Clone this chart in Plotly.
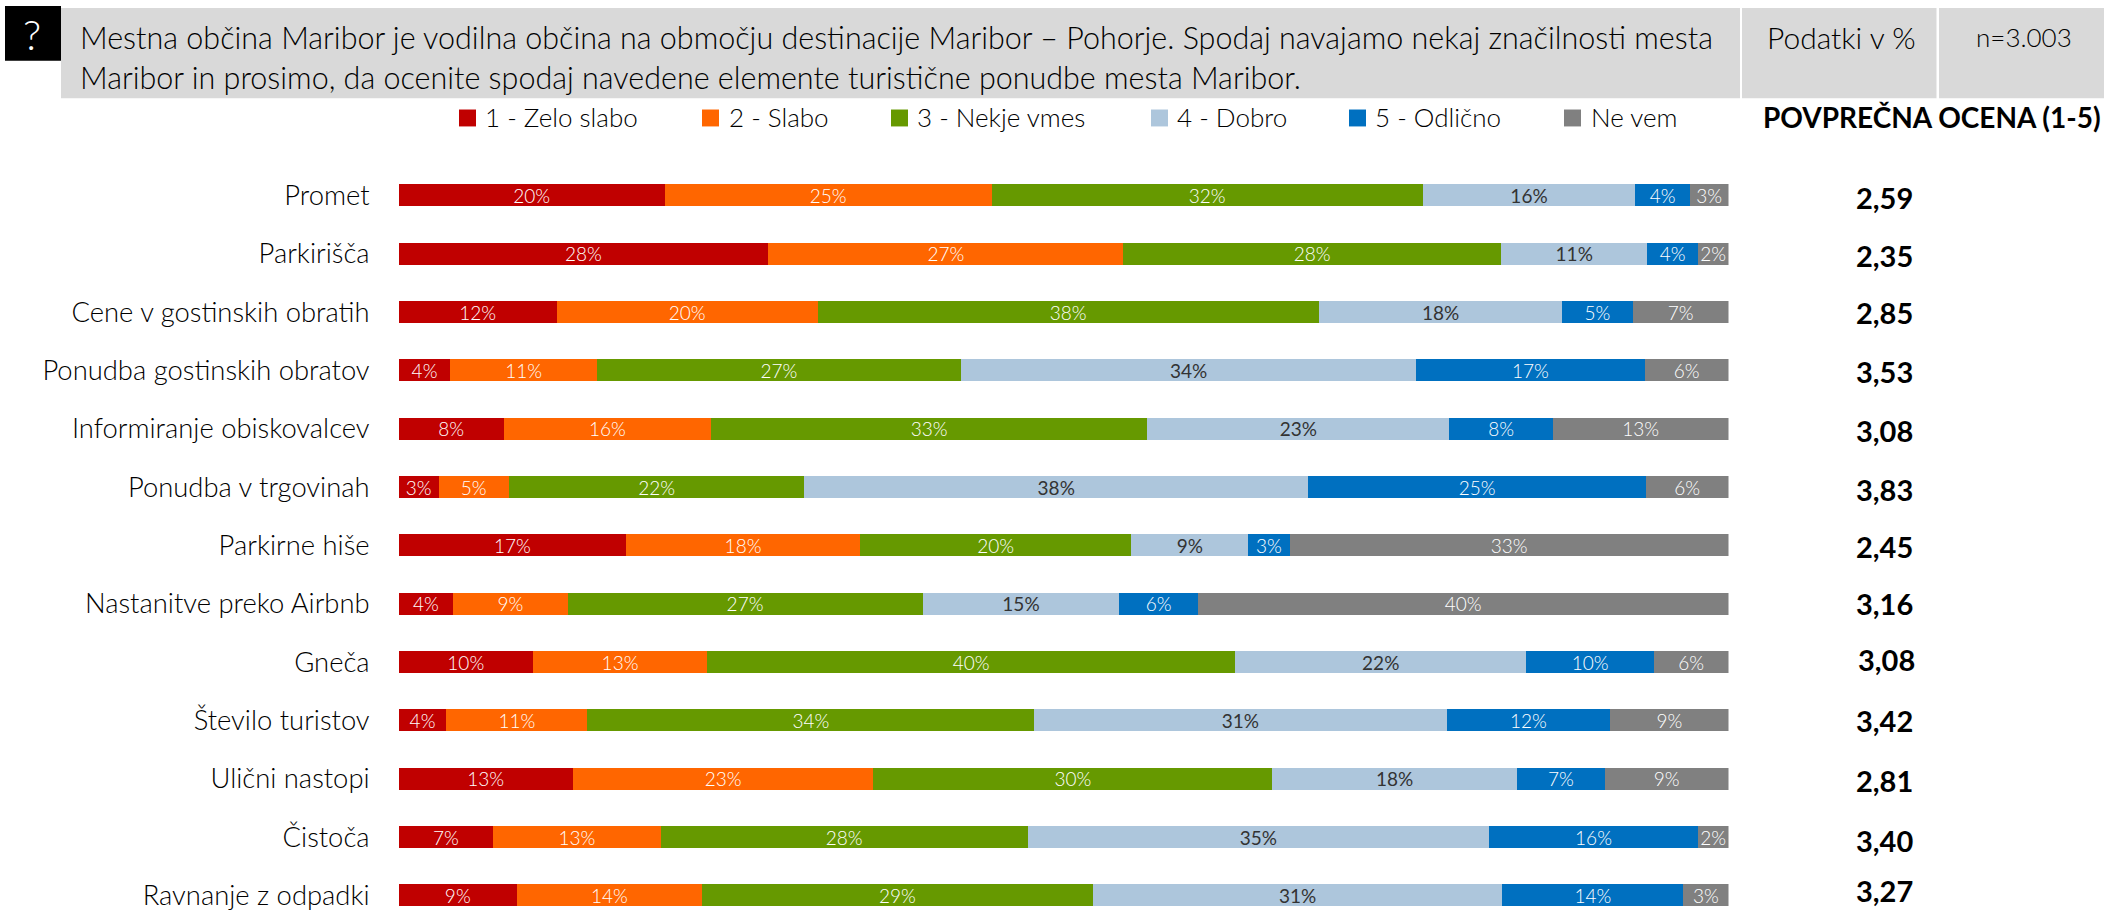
"""
Ocena elementov turistične ponudbe mesta Maribor - stacked bars with header band
"""

import plotly.graph_objects as go

WIDTH = 2104
HEIGHT = 911
FONT = "Lato"

categories = [
    "Promet", "Parkirišča", "Cene v gostinskih obratih", "Ponudba gostinskih obratov",
    "Informiranje obiskovalcev", "Ponudba v trgovinah", "Parkirne hiše",
    "Nastanitve preko Airbnb", "Gneča", "Število turistov", "Ulični nastopi",
    "Čistoča", "Ravnanje z odpadki",
]

zelo_slabo = [20.0, 27.8, 11.9, 3.9, 7.9, 3.0, 17.1, 4.1, 10.1, 3.6, 13.1, 7.1, 8.9]
slabo = [24.6, 26.7, 19.6, 11.0, 15.6, 5.3, 17.6, 8.6, 13.1, 10.6, 22.6, 12.6, 13.9]
nekje_vmes = [32.4, 28.4, 37.7, 27.4, 32.8, 22.2, 20.4, 26.7, 39.7, 33.6, 30.0, 27.6, 29.4]
dobro = [16.0, 11.0, 18.3, 34.2, 22.7, 37.9, 8.8, 14.8, 21.9, 31.0, 18.4, 34.7, 30.8]
odlicno = [4.1, 3.8, 5.3, 17.2, 7.8, 25.4, 3.1, 5.9, 9.6, 12.3, 6.6, 15.7, 13.6]
ne_vem = [2.9, 2.3, 7.2, 6.3, 13.2, 6.2, 33.0, 39.9, 5.6, 8.9, 9.3, 2.3, 3.4]

povprecna_ocena = ["2,59", "2,35", "2,85", "3,53", "3,08", "3,83", "2,45",
                   "3,16", "3,08", "3,42", "2,81", "3,40", "3,27"]

series_names = ["1 - Zelo slabo", "2 - Slabo", "3 - Nekje vmes", "4 - Dobro", "5 - Odlično", "Ne vem"]
series_values = [zelo_slabo, slabo, nekje_vmes, dobro, odlicno, ne_vem]
series_colors = ["#C00000", "#FF6600", "#669900", "#ADC6DC", "#0070C0", "#808080"]
label_colors = ["white", "white", "white", "#333333", "white", "white"]
label_weights = [300, 300, 300, 400, 300, 300]

question = ("Mestna občina Maribor je vodilna občina na območju destinacije Maribor – Pohorje. "
            "Spodaj navajamo nekaj značilnosti mesta<br>"
            "Maribor in prosimo, da ocenite spodaj navedene elemente turistične ponudbe mesta Maribor.")

# pixel positions of the hand-placed pieces (legend is spaced unevenly in the original)
legend_swatch_x = [459, 702, 891, 1151, 1349, 1564]
legend_text_x = [483, 727, 915, 1175, 1373, 1589]
score_yshift = [-2, -2, 0, -1, -2, -2, -1, 0, 3, 0, -2, -3, 5]
score_xshift = [0, 0, 0, 0, 0, 0, 0, 0, 2, 0, 0, 0, 0]


def px(x):
    return x / WIDTH


def py(y):
    return 1 - y / HEIGHT


def add_box(fig, x0, y0, x1, y1, color):
    fig.add_shape(type="rect", xref="paper", yref="paper",
                  x0=px(x0), x1=px(x1), y0=py(y0), y1=py(y1),
                  fillcolor=color, line_width=0, layer="below")


def add_text(fig, text, x, y, size, xanchor="left", color="#000000", weight=300):
    fig.add_annotation(text=text, xref="paper", yref="paper", x=px(x), y=py(y),
                       xanchor=xanchor, yanchor="middle", align="left", showarrow=False,
                       font=dict(family=FONT, size=size, color=color, weight=weight))


fig = go.Figure()

for name, values, color, label_color, label_weight in zip(series_names, series_values, series_colors,
                                                         label_colors, label_weights):
    fig.add_trace(go.Bar(
        name=name, y=categories, x=values, orientation="h",
        marker=dict(color=color, line_width=0),
        texttemplate="%{x:.0f}%", textposition="inside", insidetextanchor="middle",
        textangle=0, constraintext="none",
        textfont=dict(family=FONT, size=19, color=label_color, weight=label_weight),
        width=0.38,
    ))

# header band
add_box(fig, 61, 8, 1740, 98.7, "#D9D9D9")
add_box(fig, 1742, 8, 1936.5, 98.7, "#D9D9D9")
add_box(fig, 1939, 8, 2104, 98.7, "#D9D9D9")
add_box(fig, 5, 6, 61, 61, "#000000")
add_text(fig, "?", 32, 34, 42, xanchor="center", color="white")
add_text(fig, question, 78, 57, 30.5)
add_text(fig, "Podatki v %", 1841, 37, 30, xanchor="center")
add_text(fig, "n=3.003", 2024, 37, 26, xanchor="center")

# legend
for swatch_x, text_x, name, color in zip(legend_swatch_x, legend_text_x, series_names, series_colors):
    add_box(fig, swatch_x, 110, swatch_x + 17, 127, color)
    add_text(fig, name, text_x, 118, 26)
add_text(fig, "POVPREČNA OCENA (1-5)", 1761, 118, 28, weight=700)

# average score column
for cat, score, dy, dx in zip(categories, povprecna_ocena, score_yshift, score_xshift):
    fig.add_annotation(text=score, xref="paper", yref="y", x=px(1884), y=cat,
                       xanchor="center", yanchor="middle", yshift=dy, xshift=dx, showarrow=False,
                       font=dict(family=FONT, size=29, color="black", weight=700))

fig.update_layout(
    width=WIDTH, height=HEIGHT,
    barmode="stack", showlegend=False,
    plot_bgcolor="white", paper_bgcolor="white",
    margin=dict(l=0, r=0, t=0, b=0),
    font=dict(family=FONT, color="#000000"),
    xaxis=dict(domain=[398.6 / WIDTH, 1728.5 / WIDTH], range=[0, 100], visible=False),
    yaxis=dict(
        type="category", categoryorder="array", categoryarray=categories,
        range=[12.2, -3.35], showgrid=False, zeroline=False, showline=False,
        ticks="", ticklabelstandoff=28,
        tickfont=dict(family=FONT, size=27.4, color="#000000", weight=300),
    ),
)

fig.write_html("out.html", config={"displayModeBar": False},
               post_script="document.body.style.margin='0';document.body.style.overflow='hidden';")
